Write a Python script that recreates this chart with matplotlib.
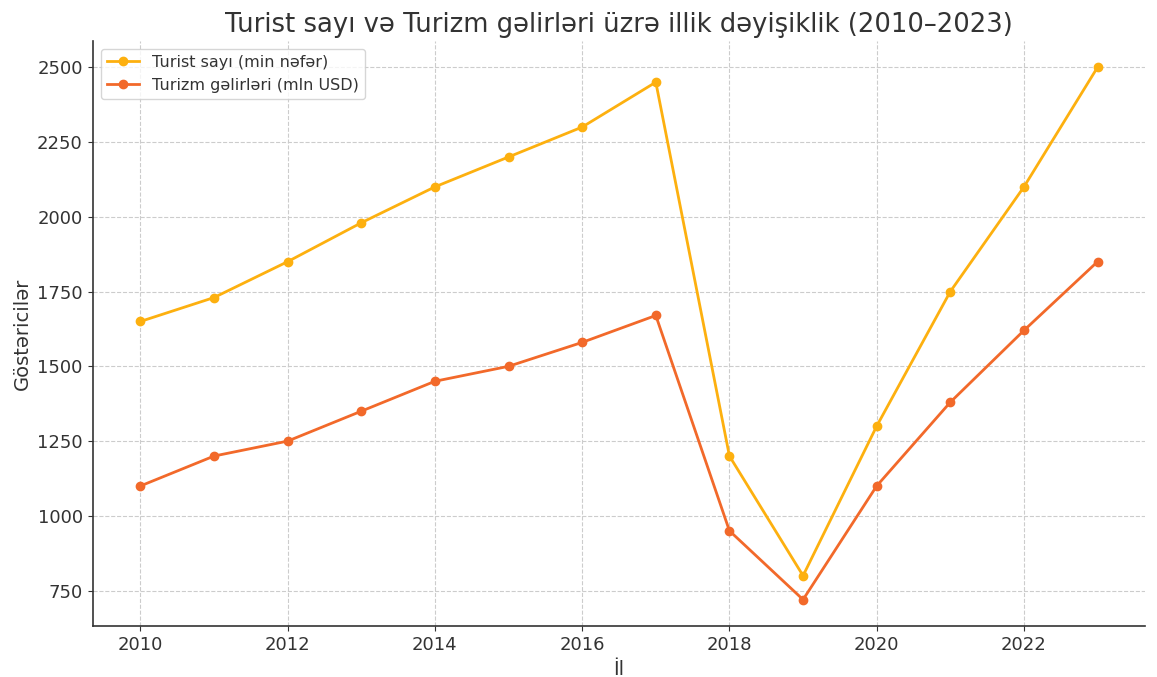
import matplotlib.pyplot as plt

# Məlumatlar
years = [2010, 2011, 2012, 2013, 2014, 2015, 2016, 2017, 2018, 2019, 2020, 2021, 2022, 2023]
tourists = [1650, 1730, 1850, 1980, 2100, 2200, 2300, 2450, 1200, 800, 1300, 1750, 2100, 2500]
revenue = [1100, 1200, 1250, 1350, 1450, 1500, 1580, 1670, 950, 720, 1100, 1380, 1620, 1850]

plt.rcParams['font.family'] = ['DejaVu Sans']

fig, ax = plt.subplots(figsize=(11.57, 6.77), dpi=100)

ax.plot(years, tourists, marker='o', color='#FDB00F', linewidth=2, markersize=6,
        label='Turist sayı (min nəfər)')
ax.plot(years, revenue, marker='o', color='#F2692A', linewidth=2, markersize=6,
        label='Turizm gəlirləri (mln USD)')

ax.set_title('Turist sayı və Turizm gəlirləri üzrə illik dəyişiklik (2010–2023)',
             fontsize=18.6, color='#333333')
ax.set_xlabel('İl', fontsize=14, color='#333333')
ax.set_ylabel('Göstəricilər', fontsize=14, color='#333333')

ax.set_yticks([750, 1000, 1250, 1500, 1750, 2000, 2250, 2500])
ax.tick_params(labelsize=13, colors='#333333')
ax.grid(True, linestyle='--', color='#cccccc', linewidth=0.8)
ax.spines['top'].set_visible(False)
ax.spines['right'].set_visible(False)
for s in ['left', 'bottom']:
    ax.spines[s].set_color('#333333')
    ax.spines[s].set_linewidth(1.2)

ax.legend(loc='upper left', fontsize=11.5, labelcolor='#333333')

plt.subplots_adjust(left=0.08, right=0.99, top=0.94, bottom=0.075)
plt.savefig('out.png')
